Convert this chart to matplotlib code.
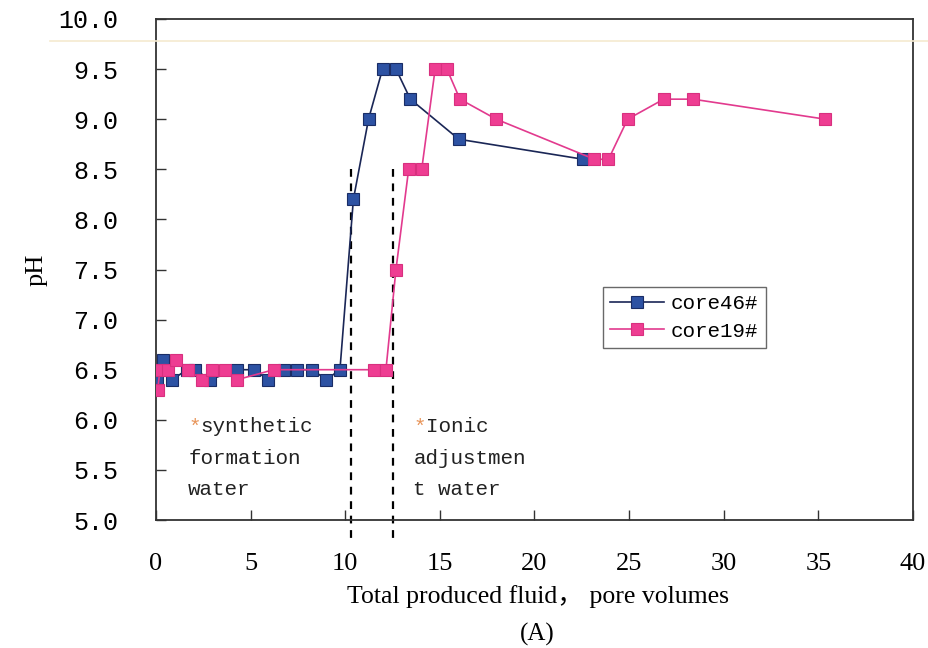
import matplotlib
matplotlib.use("Agg")
import matplotlib.pyplot as plt
from matplotlib.lines import Line2D

# pH of the produced fluid versus cumulative pore volumes
core46_pv = [0.05, 0.36, 0.86, 1.63, 2.07, 2.86, 4.28, 5.16, 5.93, 6.75, 7.46,
             8.26, 9.0, 9.72, 10.43, 11.23, 11.97, 12.68, 13.44, 16.0, 22.58]
core46_ph = [6.4, 6.6, 6.4, 6.5, 6.5, 6.4, 6.5, 6.5, 6.4, 6.5, 6.5,
             6.5, 6.4, 6.5, 8.2, 9.0, 9.5, 9.5, 9.2, 8.8, 8.6]

core19_pv = [0.09, 0.21, 0.62, 1.06, 1.68, 2.42, 2.95, 3.66, 4.28, 6.22, 11.5,
             12.15, 12.68, 13.35, 14.04, 14.75, 15.37, 16.06, 17.98, 23.17,
             23.91, 24.92, 26.83, 28.37, 35.37]
core19_ph = [6.3, 6.5, 6.5, 6.6, 6.5, 6.4, 6.5, 6.5, 6.4, 6.5, 6.5,
             6.5, 7.5, 8.5, 8.5, 9.5, 9.5, 9.2, 9.0, 8.6,
             8.6, 9.0, 9.2, 9.2, 9.0]

series_names = ["core46#", "core19#"]
switch_pv = [10.3, 12.5]          # injection-fluid switch points
switch_top = 8.5
x_ticks = [0, 5, 10, 15, 20, 25, 30, 35, 40]
y_ticks = [5.0, 5.5, 6.0, 6.5, 7.0, 7.5, 8.0, 8.5, 9.0, 9.5, 10.0]

serif = ["Liberation Serif", "Noto Sans CJK SC"]
mono = ["Liberation Mono", "DejaVu Sans Mono"]

fig = plt.figure(figsize=(9.29, 6.48), dpi=100)
ax = fig.add_axes([156 / 929, 1 - 520 / 648, (913 - 156) / 929, (520 - 19) / 648])

blue_line, blue_face, blue_edge = "#1a2656", "#2d52a3", "#1a2d66"
pink_line, pink_face, pink_edge = "#e23a8e", "#ee3d92", "#d8307f"

ax.plot(core46_pv, core46_ph, color=blue_line, lw=1.2, marker="s", ms=8,
        mfc=blue_face, mec=blue_edge, mew=0.8, label=series_names[0], zorder=3)
ax.plot(core19_pv, core19_ph, color=pink_line, lw=1.2, marker="s", ms=8,
        mfc=pink_face, mec=pink_edge, mew=0.8, label=series_names[1], zorder=3)

for xv in switch_pv:
    ax.plot([xv, xv], [switch_top, 4.76], color="black", lw=1.6,
            ls=(0, (3.5, 3)), clip_on=False, zorder=2)

ax.set_xlim(0, 40)
ax.set_ylim(5.0, 10.0)
ax.set_xticks(x_ticks)
ax.set_xticklabels([str(v) for v in x_ticks], family=serif, fontsize=19)
ax.set_yticks(y_ticks)
ax.set_yticklabels([f"{v:.1f}" for v in y_ticks], family=mono, fontsize=18)
ax.tick_params(axis="both", direction="in", length=7, width=1, color="#333333")
ax.tick_params(axis="y", pad=27)
ax.tick_params(axis="x", pad=24)
for s in ax.spines.values():
    s.set_linewidth(1.3)
    s.set_color("#333333")

ax.set_ylabel("pH", family=serif, fontsize=19, labelpad=8)
fig.text(538 / 929, 1 - 597 / 648, "Total produced fluid， pore volumes",
         family=serif, fontsize=18.5, ha="center", va="center")
fig.text(537 / 929, 1 - 634 / 648, "(A)", family=serif, fontsize=18,
         ha="center", va="center")

# Fluid annotations: orange asterisk, then the wrapped description
star = "#e8955a"
note_size = 15
char_w = 0.6 * note_size      # monospace advance, points
line_step = 22.5              # points between lines
notes = [(1.7, 5.93, ["synthetic", "formation", "water"]),
         (13.6, 5.93, ["Ionic", "adjustmen", "t water"])]
for xv, yv, lines in notes:
    ax.annotate("*", (xv, yv), xytext=(0, 0), textcoords="offset points",
                family=mono, fontsize=note_size, ha="left", va="center",
                color=star)
    ax.annotate(lines[0], (xv, yv), xytext=(char_w, 0),
                textcoords="offset points", family=mono, fontsize=note_size,
                ha="left", va="center", color="#222222")
    for i, line in enumerate(lines[1:], start=1):
        ax.annotate(line, (xv, yv), xytext=(0, -line_step * i),
                    textcoords="offset points", family=mono,
                    fontsize=note_size, ha="left", va="center",
                    color="#222222")

leg = ax.legend(loc="upper left", bbox_to_anchor=(603 / 929, 1 - 287 / 648),
                bbox_transform=fig.transFigure, prop={"family": mono, "size": 15},
                frameon=True, fancybox=False, borderaxespad=0, handlelength=2.6,
                handletextpad=0.3, borderpad=0.35, labelspacing=0.4)
leg.get_frame().set_edgecolor("#444444")
leg.get_frame().set_linewidth(1.0)

# faint horizontal rule across the top
fig.add_artist(Line2D([50 / 929, 1.0], [1 - 41 / 648, 1 - 41 / 648],
                      transform=fig.transFigure, color="#f5eacf", lw=1.2))

fig.savefig("out.png", dpi=100)
